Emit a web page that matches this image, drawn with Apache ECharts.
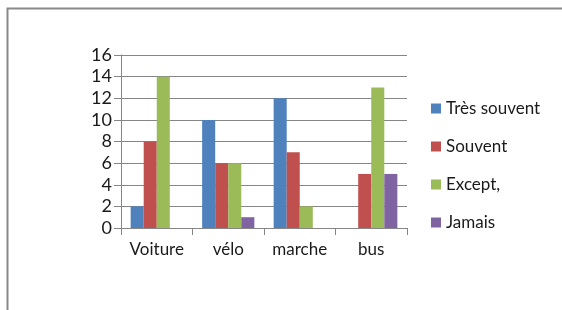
<!DOCTYPE html>
<html>
<head>
<meta charset="utf-8">
<script src="https://cdn.jsdelivr.net/npm/echarts@6/dist/echarts.min.js"></script>
<style>
  html, body { margin: 0; padding: 0; background: #fff; }
  #main { width: 562px; height: 310px; }
</style>
</head>
<body>
<div id="main"></div>
<script>
// modes de transport
var categories = ['Voiture', 'vélo', 'marche', 'bus'];
var tresSouvent = [2, 10, 12, 0];
var souvent = [8, 6, 7, 5];
var except = [14, 6, 2, 13];
var jamais = [0, 1, 0, 5];
var yTicks = [0, 2, 4, 6, 8, 10, 12, 14, 16];

var font = 'Lato';
var chart = echarts.init(document.getElementById('main'), null, { renderer: 'canvas' });

function bar(name, data, color) {
  return {
    name: name,
    type: 'bar',
    data: data,
    barGap: 0,
    barCategoryGap: '27%',
    itemStyle: { color: color },
    animation: false
  };
}

var option = {
  backgroundColor: '#fff',
  animation: false,
  graphic: [{
    type: 'rect',
    shape: { x: 7.5, y: 8.5, width: 600, height: 400 },
    style: { fill: 'none', stroke: '#898989', lineWidth: 2 },
    silent: true
  }],
  grid: { left: 121, right: 155, top: 55, bottom: 82 },
  legend: {
    orient: 'vertical',
    left: 426,
    top: 95,
    icon: 'rect',
    itemWidth: 10,
    itemHeight: 10,
    itemGap: 21,
    textStyle: { fontFamily: font, fontSize: 17, color: '#1a1a1a', lineHeight: 16 },
    data: ['Très souvent', 'Souvent', 'Except,', 'Jamais']
  },
  xAxis: {
    type: 'category',
    data: categories,
    axisLine: { lineStyle: { color: '#868686', width: 1 } },
    axisTick: { show: true, alignWithLabel: false, length: 7, lineStyle: { color: '#868686' } },
    axisLabel: { fontFamily: font, fontSize: 17, color: '#1a1a1a', margin: 13 }
  },
  yAxis: {
    type: 'value',
    min: yTicks[0],
    max: yTicks[yTicks.length - 1],
    interval: 2,
    axisLine: { show: true, lineStyle: { color: '#868686' } },
    axisTick: { show: true, length: 7, lineStyle: { color: '#868686' } },
    splitLine: { lineStyle: { color: '#868686', width: 1 } },
    axisLabel: { fontFamily: font, fontSize: 18, color: '#1a1a1a', margin: 9 }
  },
  series: [
    bar('Très souvent', tresSouvent, '#4F81BD'),
    bar('Souvent', souvent, '#C0504D'),
    bar('Except,', except, '#9BBB59'),
    bar('Jamais', jamais, '#8064A2')
  ]
};
chart.setOption(option);
</script>
</body>
</html>
